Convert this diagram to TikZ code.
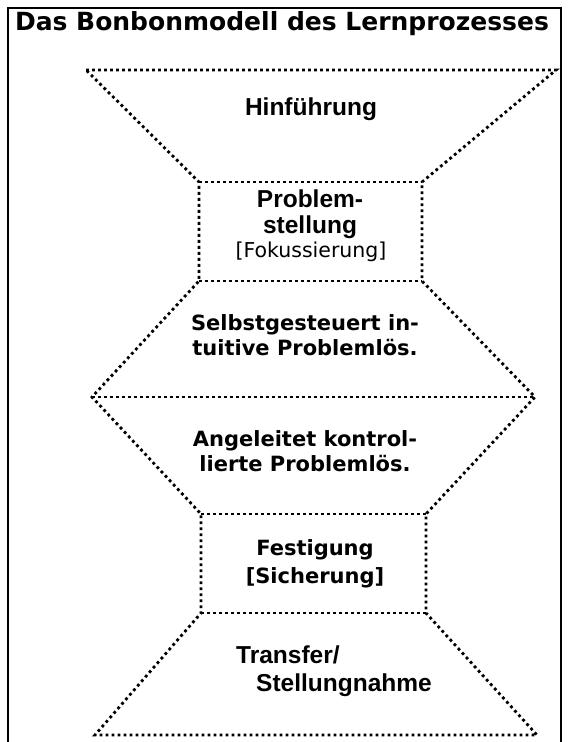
\documentclass[tikz,border=0pt]{standalone}
\usepackage{fontspec}
\setmainfont{DejaVu Sans}
\newfontfamily\arialfont{Liberation Sans}
\begin{document}
\begin{tikzpicture}[x=1pt, y=-1pt,
    dotline/.style={line width=2.8pt, dash pattern=on 2.8pt off 3.2pt},
    verd/.style={font=\fontsize{21}{24.5}\selectfont\bfseries, align=center, inner sep=0pt},
    ari/.style={font=\arialfont\fontsize{24.5}{26}\selectfont\bfseries, align=center, inner sep=0pt},
]
  \useasboundingbox (0,0) rectangle (568,742);
  % frame, open at the bottom
  \draw [line width=1.6pt] (8,760) -- (8,8) -- (561,8) -- (561,760);
  \node [font=\fontsize{25}{28}\selectfont\bfseries, inner sep=0pt] (title) at (282,24) {Das Bonbonmodell des Lernprozesses};

  % corners of the bonbon
  \coordinate (tl)  at (86,70);   \coordinate (tr)  at (556,70);
  \coordinate (p1l) at (199,182); \coordinate (p1r) at (422,182);
  \coordinate (p2l) at (199,281); \coordinate (p2r) at (422,281);
  \coordinate (ml)  at (92,397);  \coordinate (mr)  at (535,397);
  \coordinate (f1l) at (201,514); \coordinate (f1r) at (426,514);
  \coordinate (f2l) at (201,613); \coordinate (f2r) at (426,613);
  \coordinate (bl)  at (95,735);  \coordinate (br)  at (537,735);

  \draw [dotline] (tl) -- (tr) -- (p1r) -- (p2r) -- (mr) -- (f1r) -- (f2r) -- (br)
                  -- (bl) -- (f2l) -- (f1l) -- (ml) -- (p2l) -- (p1l) -- cycle;
  \draw [dotline] (p1l) -- (p1r);
  \draw [dotline] (p2l) -- (p2r);
  \draw [dotline] (ml)  -- (mr);
  \draw [dotline] (f1l) -- (f1r);
  \draw [dotline] (f2l) -- (f2r);

  % labels
  \node [ari]  (hin)    at (311,109) {Hinführung};
  \node [ari]  (prob)   at (310,214) {Problem-\\stellung};
  \node [font=\fontsize{20.5}{24}\selectfont, inner sep=0pt] (fok) at (311,252) {[Fokussierung]};
  \node [verd] (selbst) at (305,335) {Selbstgesteuert in-\\tuitive Problemlös.};
  \node [verd] (angel)  at (305,451) {Angeleitet kontrol-\\lierte Problemlös.};
  \node [verd, font=\fontsize{21}{28}\selectfont\bfseries] (fest) at (315,564) {Festigung\\{[Sicherung]}};
  \node [ari, font=\arialfont\fontsize{24.5}{28}\selectfont\bfseries, align=left, anchor=west]
        (trans) at (236,671) {Transfer/\\\hspace{20pt}Stellungnahme};
\end{tikzpicture}
\end{document}
